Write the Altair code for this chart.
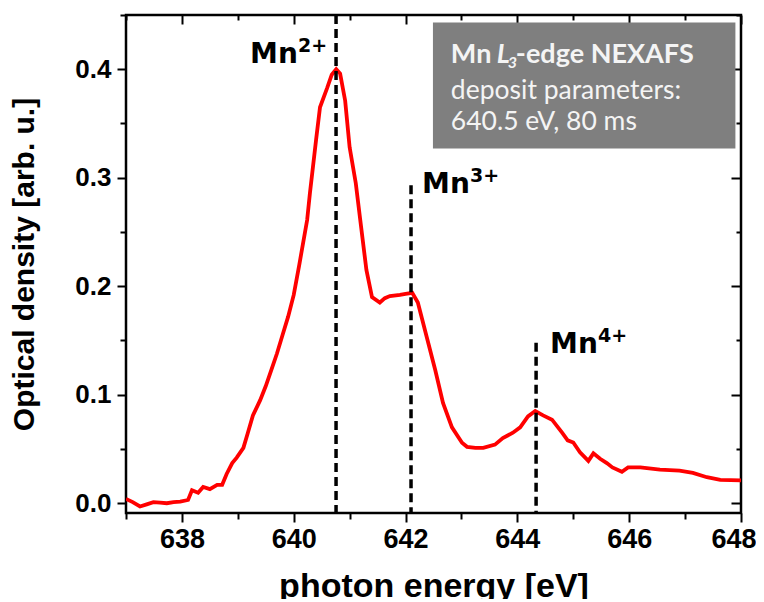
import altair as alt
import pandas as pd

# ---- data ----
energy = [637.00, 637.12, 637.25, 637.37, 637.49, 637.61, 637.73, 637.85, 637.97, 638.11,
          638.18, 638.29, 638.38, 638.50, 638.63, 638.72, 638.80, 638.90, 638.98, 639.10,
          639.18, 639.27, 639.40, 639.50, 639.60, 639.70, 639.80, 639.90, 640.00, 640.10,
          640.24, 640.29, 640.40, 640.47, 640.60, 640.68, 640.76, 640.83, 640.92, 641.00,
          641.11, 641.19, 641.30, 641.40, 641.54, 641.63, 641.72, 641.90, 642.00, 642.12,
          642.22, 642.38, 642.53, 642.67, 642.83, 643.01, 643.10, 643.25, 643.39, 643.60,
          643.74, 643.92, 644.05, 644.19, 644.32, 644.46, 644.62, 644.80, 644.90, 645.00,
          645.12, 645.27, 645.36, 645.48, 645.60, 645.70, 645.87, 645.98, 646.20, 646.55,
          646.90, 647.14, 647.39, 647.63, 648.00]
optical_density = [0.004, 0.001, -0.003, -0.001, 0.001, 0.0005, 0.000, 0.001, 0.0014, 0.003,
                   0.012, 0.0097, 0.015, 0.013, 0.017, 0.017, 0.027, 0.037, 0.042, 0.051,
                   0.065, 0.081, 0.095, 0.108, 0.123, 0.138, 0.155, 0.172, 0.192, 0.220,
                   0.261, 0.286, 0.335, 0.365, 0.383, 0.395, 0.400, 0.396, 0.371, 0.328,
                   0.295, 0.261, 0.215, 0.190, 0.185, 0.189, 0.191, 0.192, 0.193, 0.194,
                   0.185, 0.153, 0.123, 0.0925, 0.070, 0.0557, 0.052, 0.051, 0.051, 0.054,
                   0.060, 0.065, 0.070, 0.080, 0.085, 0.081, 0.077, 0.065, 0.058, 0.056,
                   0.047, 0.039, 0.046, 0.041, 0.037, 0.033, 0.029, 0.033, 0.033, 0.031,
                   0.030, 0.028, 0.024, 0.0216, 0.021]

peak_energy = [640.757, 642.098, 644.335]
peak_line_top = [0.45, 0.293, 0.148]
peak_name = ["Mn", "Mn", "Mn"]
peak_charge = ["2+", "3+", "4+"]
peak_label_x = [639.22, 642.295, 644.585]
peak_label_y = [0.4056, 0.286, 0.1386]

x_major = [638, 640, 642, 644, 646, 648]
x_minor = [637, 639, 641, 643, 645, 647]
y_major = [0.0, 0.1, 0.2, 0.3, 0.4]
y_minor = [0.05, 0.15, 0.25, 0.35, 0.45]

x_domain = [637, 648]
y_domain = [-0.009, 0.45]

box_x = [642.49]
box_x2 = [647.9]
box_y = [0.443]
box_y2 = [0.327]
info_x = [642.81, 642.81]
info_y = [0.373, 0.344]
info_text = ["deposit parameters:", "640.5 eV, 80 ms"]
title_x = [642.81]
title_y = [0.4056]

# ---- tables ----
curve_df = pd.DataFrame({"energy": energy, "od": optical_density})
peaks_df = pd.DataFrame({"energy": peak_energy, "top": peak_line_top,
                         "bottom": [y_domain[0]] * 3,
                         "name": peak_name, "charge": peak_charge,
                         "lx": peak_label_x, "ly": peak_label_y})
box_df = pd.DataFrame({"x": box_x, "x2": box_x2, "y": box_y, "y2": box_y2})
info_df = pd.DataFrame({"x": info_x, "y": info_y, "t": info_text})
title_df = pd.DataFrame({"x": title_x, "y": title_y})

xs = alt.Scale(domain=x_domain, nice=False, zero=False)
ys = alt.Scale(domain=y_domain, nice=False, zero=False)

AX_FONT = "Liberation Sans"

def xaxis(**kw):
    base = dict(grid=False, domain=False, tickColor="black", tickWidth=2,
                labelFlush=False, labelOverlap=False)
    base.update(kw)
    return alt.Axis(**base)

curve = alt.Chart(curve_df).mark_line(color="#ff0000", strokeWidth=3.8, clip=True).encode(
    x=alt.X("energy:Q", scale=xs, axis=xaxis(
        orient="bottom", values=x_major, tickSize=9, labelFontSize=27, labelFont=AX_FONT,
        labelFontWeight="bold", labelColor="black", labelPadding=4,
        labelFlush=True, labelFlushOffset=15,
        title="photon energy [eV]", titleFont=AX_FONT, titleFontSize=34,
        titleFontWeight="bold", titleColor="black", titlePadding=17)),
    y=alt.Y("od:Q", scale=ys, axis=xaxis(
        orient="left", values=y_major, format=".1f", tickSize=9, labelFontSize=26,
        labelFont=AX_FONT, labelFontWeight="bold", labelColor="black", labelPadding=6,
        title="Optical density [arb. u.]", titleFont=AX_FONT, titleFontSize=30,
        titleFontWeight="bold", titleColor="black", titlePadding=35)),
)

def tick_layer(xo, xv, xsz, xoff, yo, yv, ysz, yoff):
    return alt.Chart(curve_df).mark_line(opacity=0).encode(
        x=alt.X("energy:Q", scale=xs, axis=xaxis(
            orient=xo, values=xv, tickSize=xsz, offset=xoff, labels=False, title="")),
        y=alt.Y("od:Q", scale=ys, axis=xaxis(
            orient=yo, values=yv, tickSize=ysz, offset=yoff, labels=False, title="")),
    )

minor_out = tick_layer("bottom", x_minor, 6, 0, "left", y_minor, 6, 0)
major_in = tick_layer("top", x_major, 9, -9, "right", y_major, 10, -10)
minor_in = tick_layer("top", x_minor, 5, -5, "right", y_minor, 5, -5)

box = alt.Chart(box_df).mark_rect(color="#7f7f7f").encode(
    x=alt.X("x:Q", scale=xs, axis=None), x2="x2:Q",
    y=alt.Y("y:Q", scale=ys, axis=None), y2="y2:Q")

rules = alt.Chart(peaks_df).mark_rule(color="black", strokeWidth=3.5,
                                      strokeDash=[9, 5]).encode(
    x=alt.X("energy:Q", scale=xs, axis=None),
    y=alt.Y("top:Q", scale=ys, axis=None), y2="bottom:Q")

LBL_FONT = "DejaVu Sans"
mn = alt.Chart(peaks_df).mark_text(font=LBL_FONT, fontWeight="bold", fontSize=28,
                                   align="left", baseline="alphabetic", color="black").encode(
    x=alt.X("lx:Q", scale=xs, axis=None), y=alt.Y("ly:Q", scale=ys, axis=None), text="name:N")
sup = alt.Chart(peaks_df).mark_text(font=LBL_FONT, fontWeight="bold", fontSize=19,
                                    align="left", baseline="alphabetic", color="black",
                                    dx=48, dy=-11).encode(
    x=alt.X("lx:Q", scale=xs, axis=None), y=alt.Y("ly:Q", scale=ys, axis=None), text="charge:N")

BOX_FONT = "Lato"
BOX_COL = "#f4f4f4"
def box_text(txt, dx=0, dy=0, size=27, weight="bold", style="normal"):
    return alt.Chart(title_df).mark_text(font=BOX_FONT, fontWeight=weight, fontStyle=style,
                                         fontSize=size, align="left", baseline="alphabetic",
                                         color=BOX_COL, dx=dx, dy=dy).encode(
        x=alt.X("x:Q", scale=xs, axis=None), y=alt.Y("y:Q", scale=ys, axis=None),
        text=alt.value(txt))

t1 = box_text("Mn")
t2 = box_text("L", dx=46, style="italic")
t3 = box_text("3", dx=57, dy=5, size=16, style="italic")
t4 = box_text("-edge NEXAFS", dx=65)
info = alt.Chart(info_df).mark_text(font=BOX_FONT, fontSize=26.5, align="left",
                                    baseline="alphabetic", color=BOX_COL).encode(
    x=alt.X("x:Q", scale=xs, axis=None), y=alt.Y("y:Q", scale=ys, axis=None), text="t:N")

chart = alt.layer(curve, minor_out, major_in, minor_in, box, rules, mn, sup,
                  t1, t2, t3, t4, info).resolve_axis(
    x="independent", y="independent"
).properties(
    width=615, height=498,
    autosize=alt.AutoSizeParams(type="none"),
    padding={"left": 118, "top": 7, "right": 15, "bottom": 86},
    background="white",
).configure_view(stroke="black", strokeWidth=2.5)

chart.save("out.html", embed_options={"renderer": "svg", "actions": False})
